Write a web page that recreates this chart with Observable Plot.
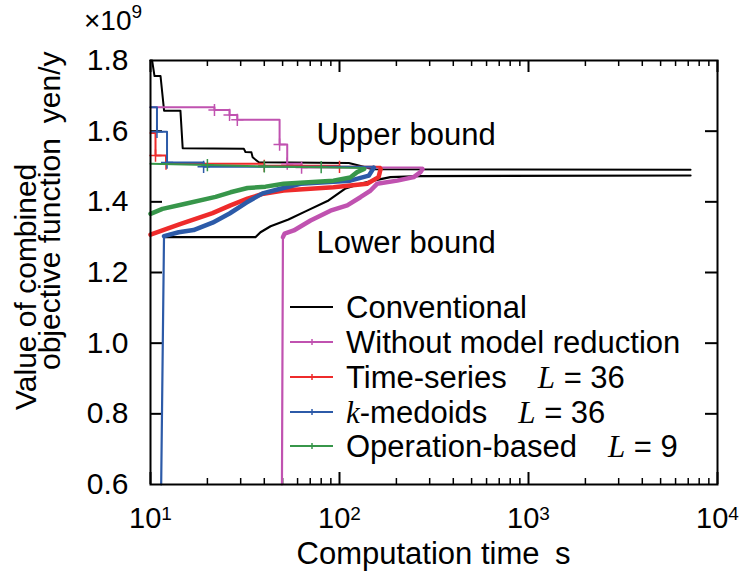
<!DOCTYPE html>
<html><head><meta charset="utf-8">
<script src="https://cdn.jsdelivr.net/npm/d3@7"></script>
<script src="https://cdn.jsdelivr.net/npm/@observablehq/plot@0.6"></script>
<style>body{margin:0;background:#fff}svg{display:block}</style>
</head><body><div id="chart"></div>
<script>
// ---- data ----
const seriesNames = ["Conventional", "Without model reduction", "Time-series", "k-medoids", "Operation-based"];
const seriesL = [null, null, 36, 36, 9];
const xTicks = [10, 100, 1000, 10000];
const yTicks = [0.6, 0.8, 1.0, 1.2, 1.4, 1.6, 1.8];

// Conventional (upper and lower bound)
const convUpX = [10, 10.2, 10.5, 11.3, 11.8, 14.4, 14.8, 31.2, 31.8, 34.2, 34.7, 37.4, 112, 128, 150, 7200];
const convUpY = [1.80, 1.80, 1.756, 1.756, 1.658, 1.658, 1.552, 1.550, 1.541, 1.540, 1.526, 1.512, 1.510, 1.502, 1.492, 1.491];
const convLoX = [11.8, 35.9, 38.2, 43.2, 53.7, 66.1, 87.5, 107.7, 129, 151, 186, 268, 7200];
const convLoY = [1.300, 1.300, 1.314, 1.331, 1.350, 1.373, 1.404, 1.438, 1.451, 1.460, 1.470, 1.473, 1.4745];

// Without model reduction
const woUpX = [10, 21.8, 26.2, 28.8, 48.2, 52.9, 63, 270];
const woUpY = [1.668, 1.660, 1.646, 1.632, 1.562, 1.508, 1.497, 1.495];
const woLoX = [49.6, 50.2, 51.2, 57.3, 70.3, 89.6, 109.9, 129, 146, 158, 202, 247, 268, 275];
const woLoY = [0.6, 1.300, 1.310, 1.319, 1.347, 1.375, 1.390, 1.413, 1.432, 1.451, 1.460, 1.470, 1.484, 1.493];

// Time-series L = 36
const tsUpX = [10, 10.63, 12.08, 40, 100, 165];
const tsUpY = [1.595, 1.531, 1.508, 1.502, 1.499, 1.497];
const tsLoX = [10, 14.2, 21.3, 26.5, 32.6, 39.6, 50.6, 92.9, 140, 161, 165];
const tsLoY = [1.307, 1.336, 1.368, 1.390, 1.409, 1.423, 1.432, 1.441, 1.451, 1.470, 1.493];

// k-medoids L = 36
const kmUpX = [10, 10.82, 12.23, 19.1, 152];
const kmUpY = [1.668, 1.598, 1.511, 1.499, 1.497];
const kmLoX = [11.39, 11.79, 14.1, 16.9, 21.3, 26.2, 32.2, 39.2, 48.7, 62.2, 114, 143, 152];
const kmLoY = [0.6, 1.303, 1.314, 1.320, 1.341, 1.367, 1.398, 1.424, 1.437, 1.451, 1.460, 1.474, 1.497];

// Operation-based L = 9
const obUpX = [10, 20, 40, 80, 135];
const obUpY = [1.508, 1.504, 1.500, 1.498, 1.496];
const obLoX = [10, 11.57, 15.1, 22.1, 26.5, 32.6, 40.6, 50.6, 92.9, 114, 124, 135];
const obLoY = [1.366, 1.380, 1.394, 1.414, 1.427, 1.439, 1.443, 1.451, 1.460, 1.469, 1.484, 1.493];

// ---- build ----
const pts = (xs, ys) => xs.map((x, i) => ({x, y: ys[i]}));
const colors = ["#000000", "#c052b0", "#ee2b2b", "#2c5aa8", "#37964a"];
const W = 744, H = 583;
const mL = 150, mR = 27, mT = 60, mB = 99;
const iW = W - mL - mR, iH = H - mT - mB;
const FONT = "'Liberation Sans', Arial, Helvetica, sans-serif";
const SERIF = "'Liberation Serif', 'Times New Roman', serif";

const minorX = [];
for (let e = 1; e < 4; e++) for (let m = 2; m <= 9; m++) minorX.push(m * 10 ** e);
const innerY = yTicks.slice(1, -1);

const series = [
  {up: pts(convUpX, convUpY), lo: pts(convLoX, convLoY), upCurve: "linear", c: colors[0], markers: false},
  {up: pts(woUpX, woUpY), lo: pts(woLoX, woLoY), upCurve: "step-after", c: colors[1], markers: true},
  {up: pts(tsUpX, tsUpY), lo: pts(tsLoX, tsLoY), upCurve: "step-after", c: colors[2], markers: true},
  {up: pts(kmUpX, kmUpY), lo: pts(kmLoX, kmLoY), upCurve: "step-after", c: colors[3], markers: true},
  {up: pts(obUpX, obUpY), lo: pts(obLoX, obLoY), upCurve: "linear", c: colors[4], markers: true}
];

const marks = [];
// inward ticks
marks.push(Plot.tickX(xTicks, {x: d => d, insetTop: iH - 12, strokeWidth: 2, stroke: "black"}));
marks.push(Plot.tickX(xTicks, {x: d => d, insetBottom: iH - 12, strokeWidth: 2, stroke: "black"}));
marks.push(Plot.tickX(minorX, {x: d => d, insetTop: iH - 6, strokeWidth: 1.5, stroke: "black"}));
marks.push(Plot.tickX(minorX, {x: d => d, insetBottom: iH - 6, strokeWidth: 1.5, stroke: "black"}));
marks.push(Plot.tickY(innerY, {y: d => d, insetRight: iW - 12, strokeWidth: 2, stroke: "black"}));
marks.push(Plot.tickY(innerY, {y: d => d, insetLeft: iW - 12, strokeWidth: 2, stroke: "black"}));

for (const s of series) {
  marks.push(Plot.line(s.up, {x: "x", y: "y", curve: s.upCurve, stroke: s.c, strokeWidth: 2}));
  marks.push(Plot.line(s.lo, {x: "x", y: "y", stroke: s.c, strokeWidth: 2.2, strokeLinejoin: "round"}));
  if (s.markers) {
    marks.push(Plot.line(s.lo.filter(d => d.y > 1), {x: "x", y: "y", stroke: s.c, strokeWidth: 4.5, strokeLinejoin: "round"}));
    marks.push(Plot.dot(s.up.slice(1, -1), {x: "x", y: "y", symbol: "plus", r: 4, stroke: s.c, strokeWidth: 1.5}));
  }
}

marks.push(Plot.text([{x: 75.5, y: 1.588, t: "Upper bound"}, {x: 75.5, y: 1.282, t: "Lower bound"}],
  {x: "x", y: "y", text: "t", textAnchor: "start", fontSize: 31, fill: "black"}));

marks.push(Plot.axisX(xTicks, {tickSize: 0, tickPadding: 23, fontSize: 29, tickFormat: d => "10^" + Math.round(Math.log10(d)), label: null}));
marks.push(Plot.axisY(yTicks, {tickSize: 0, tickPadding: 22, fontSize: 30, tickFormat: d3.format(".1f"), label: null}));
marks.push(Plot.frame({stroke: "black", strokeWidth: 2}));

const chart = Plot.plot({
  width: W, height: H,
  marginLeft: mL, marginRight: mR, marginTop: mT, marginBottom: mB,
  style: {fontFamily: FONT, color: "black", background: "white"},
  x: {type: "log", domain: [10, 10000]},
  y: {domain: [0.6, 1.8]},
  marks
});

const svg = d3.select(chart);
// superscripts on x tick labels
svg.selectAll('g[aria-label="x-axis tick label"] text').each(function () {
  const t = d3.select(this);
  const [b, e] = t.text().split("^");
  t.text(b);
  t.append("tspan").attr("dy", "-0.45em").attr("font-size", "19px").text(e);
});

// axis titles
const g = svg.append("g").attr("font-family", FONT).attr("fill", "black").attr("text-anchor", "start");
const sci = g.append("text").attr("x", 84).attr("y", 30).attr("font-size", 28).text("×10");
sci.append("tspan").attr("dy", "-12").attr("font-size", "19px").text("9");
g.append("text").attr("x", mL + iW / 2).attr("y", 564).attr("text-anchor", "middle").attr("font-size", 31)
  .text("Computation time\u2002s");
g.append("text").attr("transform", "translate(36,410) rotate(-90)").attr("font-size", 30).text("Value of combined");
g.append("text").attr("transform", "translate(60,370) rotate(-90)").attr("font-size", 30).text("objective function\u2002yen/y");

// legend
const lg = svg.append("g").attr("font-family", FONT).attr("fill", "black").attr("text-anchor", "start");
const rowsY = [307, 342, 377, 412, 446];
seriesNames.forEach((name, i) => {
  const y = rowsY[i];
  lg.append("line").attr("x1", 290).attr("x2", 333).attr("y1", y).attr("y2", y).attr("stroke", colors[i]).attr("stroke-width", 2);
  if (i > 0) {
    lg.append("line").attr("x1", 312).attr("x2", 312).attr("y1", y - 3).attr("y2", y + 3).attr("stroke", colors[i]).attr("stroke-width", 1.5);
  }
  const t = lg.append("text").attr("x", 346).attr("y", y).attr("dy", "0.35em").attr("font-size", 31);
  if (name === "k-medoids") {
    t.append("tspan").attr("font-family", SERIF).attr("font-style", "italic").text("k");
    t.append("tspan").text("-medoids");
  } else {
    t.append("tspan").text(name);
  }
  if (seriesL[i] != null) {
    t.append("tspan").text("\u2003");
    t.append("tspan").attr("font-family", SERIF).attr("font-style", "italic").text("L");
    t.append("tspan").text(" = " + seriesL[i]);
  }
});

document.getElementById("chart").appendChild(chart);
</script>
</body></html>
